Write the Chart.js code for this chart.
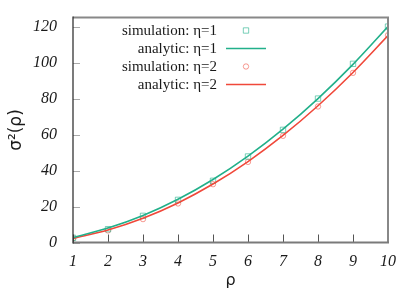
<!DOCTYPE html>
<html>
<head>
<meta charset="utf-8">
<script src="https://cdn.jsdelivr.net/npm/chart.js@4/dist/chart.umd.min.js"></script>
<style>
html,body{margin:0;padding:0;background:#fff;}
canvas{display:block;}
</style>
</head>
<body>
<canvas id="c" width="415" height="291"></canvas>
<script>
// ---- data ----
const rho = [1, 2, 3, 4, 5, 6, 7, 8, 9, 10];
const simEta1 = [2.6, 7.4, 14.8, 23.7, 34.3, 47.8, 62.6, 80.0, 99.3, 120.0];
const anaEta1 = [2.7, 8.0, 15.0, 24.0, 35.0, 48.0, 63.0, 80.0, 99.0, 120.0];
const simEta2 = [2.4, 6.7, 13.0, 21.7, 32.4, 44.8, 59.3, 75.6, 94.3, 115.2];
const anaEta2 = [2.3, 7.0, 13.5, 22.0, 32.5, 45.0, 59.5, 76.0, 94.5, 115.0];
const xTicks = [1, 2, 3, 4, 5, 6, 7, 8, 9, 10];
const yTicks = [0, 20, 40, 60, 80, 100, 120];
const seriesLabels = ['simulation: η=1', 'analytic: η=1', 'simulation: η=2', 'analytic: η=2'];

const TEAL = '#22b08a';
const RED = '#f0483a';
const TEAL_M = 'rgba(34,176,138,0.6)';
const RED_M = 'rgba(240,72,58,0.55)';

function pts(xs, ys) { return xs.map((x, i) => ({x: x, y: ys[i]})); }

const framePlugin = {
  id: 'frame',
  afterDraw(chart) {
    const ctx = chart.ctx;
    const a = chart.chartArea;
    const xs = chart.scales.x, ys = chart.scales.y;
    ctx.save();
    // y ticks (inside)
    ctx.strokeStyle = '#aaaaaa';
    ctx.lineWidth = 1;
    yTicks.forEach(v => {
      const y = Math.round(ys.getPixelForValue(v)) + 0.5;
      ctx.beginPath(); ctx.moveTo(a.left, y); ctx.lineTo(a.left + 7, y); ctx.stroke();
    });
    // x ticks (inside)
    ctx.strokeStyle = '#555555';
    xTicks.forEach(v => {
      const x = Math.round(xs.getPixelForValue(v)) + 0.5;
      ctx.beginPath(); ctx.moveTo(x, a.bottom); ctx.lineTo(x, a.bottom - 8); ctx.stroke();
    });
    // top & right border (gray)
    ctx.strokeStyle = '#888888';
    ctx.lineWidth = 2;
    ctx.beginPath();
    ctx.moveTo(a.left, a.top); ctx.lineTo(a.right, a.top); ctx.lineTo(a.right, a.bottom);
    ctx.stroke();
    // bottom border
    ctx.strokeStyle = '#7a7a7a';
    ctx.beginPath(); ctx.moveTo(a.left, a.bottom); ctx.lineTo(a.right + 1, a.bottom); ctx.stroke();
    // left border
    ctx.strokeStyle = '#222222';
    ctx.lineWidth = 1.2;
    ctx.beginPath(); ctx.moveTo(a.left, a.top - 1); ctx.lineTo(a.left, a.bottom + 1); ctx.stroke();

    // legend
    const textRight = 217, symX = 246, lineL = 226, lineR = 266, row0 = 30.5, rowH = 18;
    ctx.font = '15px "Liberation Serif", "Times New Roman", serif';
    ctx.textAlign = 'right';
    ctx.textBaseline = 'middle';
    chart.data.datasets.forEach((ds, i) => {
      const y = row0 + i * rowH;
      ctx.fillStyle = '#1a1a1a';
      ctx.fillText(ds.label, textRight, y + 1);
      if (ds.showLine) {
        ctx.strokeStyle = ds.borderColor;
        ctx.lineWidth = ds.borderWidth;
        ctx.beginPath(); ctx.moveTo(lineL, y); ctx.lineTo(lineR, y); ctx.stroke();
      } else {
        ctx.strokeStyle = ds.borderColor;
        ctx.fillStyle = 'rgba(0,0,0,0)';
        ctx.lineWidth = ds.pointBorderWidth;
        Chart.helpers.drawPoint(ctx, {pointStyle: ds.pointStyle, radius: ds.pointRadius, rotation: 0, borderWidth: ds.pointBorderWidth}, symX, y);
      }
    });
    ctx.restore();
  }
};

new Chart(document.getElementById('c'), {
  type: 'scatter',
  data: {
    datasets: [
      {label: seriesLabels[0], data: pts(rho, simEta1), showLine: false, pointStyle: 'rect',
       pointRadius: 3.8, pointBorderWidth: 1, borderColor: TEAL_M, backgroundColor: 'rgba(0,0,0,0)', order: 2},
      {label: seriesLabels[1], data: pts(rho, anaEta1), showLine: true, pointRadius: 0, borderWidth: 1.6,
       borderColor: TEAL, backgroundColor: TEAL, cubicInterpolationMode: 'monotone', order: 1},
      {label: seriesLabels[2], data: pts(rho, simEta2), showLine: false, pointStyle: 'circle',
       pointRadius: 2.7, pointBorderWidth: 1, borderColor: RED_M, backgroundColor: 'rgba(0,0,0,0)', order: 2},
      {label: seriesLabels[3], data: pts(rho, anaEta2), showLine: true, pointRadius: 0, borderWidth: 1.6,
       borderColor: RED, backgroundColor: RED, cubicInterpolationMode: 'monotone', order: 1}
    ]
  },
  options: {
    responsive: false,
    animation: false,
    devicePixelRatio: 1,
    layout: {padding: {left: 0, top: 17, right: 27, bottom: 0}},
    plugins: {legend: {display: false}, tooltip: {enabled: false}},
    scales: {
      x: {
        type: 'linear', min: 1, max: 10,
        grid: {display: false}, border: {display: false},
        afterBuildTicks(s) { s.ticks = xTicks.map(v => ({value: v})); },
        afterFit(s) { s.height = 48.5; },
        ticks: {padding: 2, color: '#1a1a1a', maxRotation: 0,
                font: {family: '"Liberation Serif", serif', style: 'italic', size: 16}},
        title: {display: true, text: 'ρ', color: '#1a1a1a', padding: {top: 0, bottom: 1},
                font: {family: '"DejaVu Sans", sans-serif', size: 16}}
      },
      y: {
        type: 'linear', min: 0, max: 125,
        grid: {display: false}, border: {display: false},
        afterBuildTicks(s) { s.ticks = yTicks.map(v => ({value: v})); },
        afterFit(s) { s.width = 73; },
        ticks: {padding: 8, color: '#1a1a1a',
                font: {family: '"Liberation Serif", serif', style: 'italic', size: 16}},
        title: {display: true, text: 'σ²(ρ)', color: '#1a1a1a', padding: {top: 6, bottom: 0},
                font: {family: '"DejaVu Sans", sans-serif', size: 17}}
      }
    }
  },
  plugins: [framePlugin]
});
</script>
</body>
</html>
